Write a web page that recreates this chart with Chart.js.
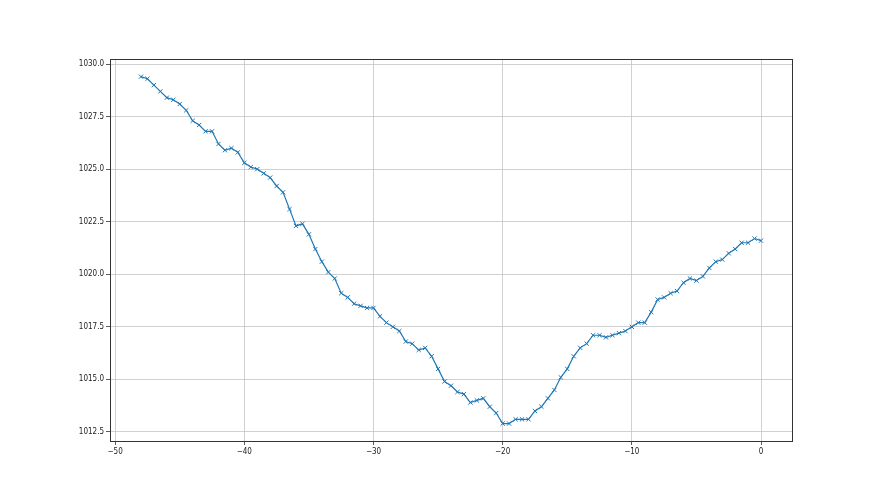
<!DOCTYPE html>
<html>
<head>
<meta charset="utf-8">
<script src="https://cdn.jsdelivr.net/npm/chart.js@4/dist/chart.umd.min.js"></script>
<style>
	html, body { margin: 0; padding: 0; background: #fff; }
	#pressureChart { display: block; }
</style>
</head>
<body>
<canvas id="pressureChart" width="880" height="495"></canvas>
<script>
var hours = [-48, -47.5, -47, -46.5, -46, -45.5, -45, -44.5, -44, -43.5, -43, -42.5,
	-42, -41.5, -41, -40.5, -40, -39.5, -39, -38.5, -38, -37.5, -37, -36.5,
	-36, -35.5, -35, -34.5, -34, -33.5, -33, -32.5, -32, -31.5, -31, -30.5,
	-30, -29.5, -29, -28.5, -28, -27.5, -27, -26.5, -26, -25.5, -25, -24.5,
	-24, -23.5, -23, -22.5, -22, -21.5, -21, -20.5, -20, -19.5, -19, -18.5,
	-18, -17.5, -17, -16.5, -16, -15.5, -15, -14.5, -14, -13.5, -13, -12.5,
	-12, -11.5, -11, -10.5, -10, -9.5, -9, -8.5, -8, -7.5, -7, -6.5,
	-6, -5.5, -5, -4.5, -4, -3.5, -3, -2.5, -2, -1.5, -1, -0.5, 0];

var pressure = [1029.4, 1029.3, 1029.0, 1028.7, 1028.4, 1028.3, 1028.1, 1027.8, 1027.3, 1027.1, 1026.8, 1026.8,
	1026.2, 1025.9, 1026.0, 1025.8, 1025.3, 1025.1, 1025.0, 1024.8, 1024.6, 1024.2, 1023.9, 1023.1,
	1022.3, 1022.4, 1021.9, 1021.2, 1020.6, 1020.1, 1019.8, 1019.1, 1018.9, 1018.6, 1018.5, 1018.4,
	1018.4, 1018.0, 1017.7, 1017.5, 1017.3, 1016.8, 1016.7, 1016.4, 1016.5, 1016.1, 1015.5, 1014.9,
	1014.7, 1014.4, 1014.3, 1013.9, 1014.0, 1014.1, 1013.7, 1013.4, 1012.9, 1012.9, 1013.1, 1013.1,
	1013.1, 1013.5, 1013.7, 1014.1, 1014.5, 1015.1, 1015.5, 1016.1, 1016.5, 1016.7, 1017.1, 1017.1,
	1017.0, 1017.1, 1017.2, 1017.3, 1017.5, 1017.7, 1017.7, 1018.2, 1018.8, 1018.9, 1019.1, 1019.2,
	1019.6, 1019.8, 1019.7, 1019.9, 1020.3, 1020.6, 1020.7, 1021.0, 1021.2, 1021.5, 1021.5, 1021.7, 1021.6];

var xTicks = [-50, -40, -30, -20, -10, 0];
var yTicks = [1012.5, 1015.0, 1017.5, 1020.0, 1022.5, 1025.0, 1027.5, 1030.0];

var tickFont = { family: "'DejaVu Sans Condensed', 'Liberation Sans Narrow', 'DejaVu Sans'", size: 8 };

// matplotlib style frame round the plot area
var framePlugin = {
	id: 'frame',
	afterDraw: function(chart) {
		var a = chart.chartArea, ctx = chart.ctx;
		ctx.save();
		ctx.strokeStyle = '#333';
		ctx.lineWidth = 1;
		ctx.strokeRect(Math.round(a.left) + 0.5, Math.round(a.top) + 0.5,
			Math.round(a.right - a.left), Math.round(a.bottom - a.top));
		ctx.restore();
	}
};

function setPressureChart(){
	var points = hours.map(function(h, i){ return { x: h, y: pressure[i] }; });
	var ctx = document.getElementById('pressureChart').getContext('2d');
	new Chart(ctx, {
		type: 'line',
		data: {
			datasets: [{
				data: points,
				borderColor: '#1f77b4',
				borderWidth: 1.2,
				tension: 0,
				pointStyle: 'crossRot',
				pointRadius: 3,
				pointBorderWidth: 1,
				pointBorderColor: '#1f77b4',
				pointBackgroundColor: '#1f77b4'
			}]
		},
		plugins: [framePlugin],
		options: {
			responsive: false,
			animation: false,
			layout: { padding: { left: 0, top: 59, right: 88, bottom: 0 } },
			plugins: { legend: { display: false }, tooltip: { enabled: false } },
			scales: {
				x: {
					type: 'linear',
					min: -50.4,
					max: 2.4,
					afterBuildTicks: function(scale){ scale.ticks = xTicks.map(function(v){ return { value: v }; }); },
					afterFit: function(scale){ scale.height = 54; },
					grid: { color: '#c4c4c4', lineWidth: 0.8, tickLength: 4, tickColor: '#333' },
					border: { display: false },
					ticks: {
						color: '#222',
						font: tickFont,
						padding: 2,
						maxRotation: 0,
						callback: function(v){ return String(v).replace('-', '\u2212'); }
					}
				},
				y: {
					min: 1012.07,
					max: 1030.24,
					afterBuildTicks: function(scale){ scale.ticks = yTicks.map(function(v){ return { value: v }; }); },
					afterFit: function(scale){ scale.width = 110; },
					grid: { color: '#c4c4c4', lineWidth: 0.8, tickLength: 4, tickColor: '#333' },
					border: { display: false },
					ticks: {
						color: '#222',
						font: tickFont,
						padding: 2,
						callback: function(v){ return v.toFixed(1); }
					}
				}
			}
		}
	});
}

setPressureChart();
</script>
</body>
</html>
